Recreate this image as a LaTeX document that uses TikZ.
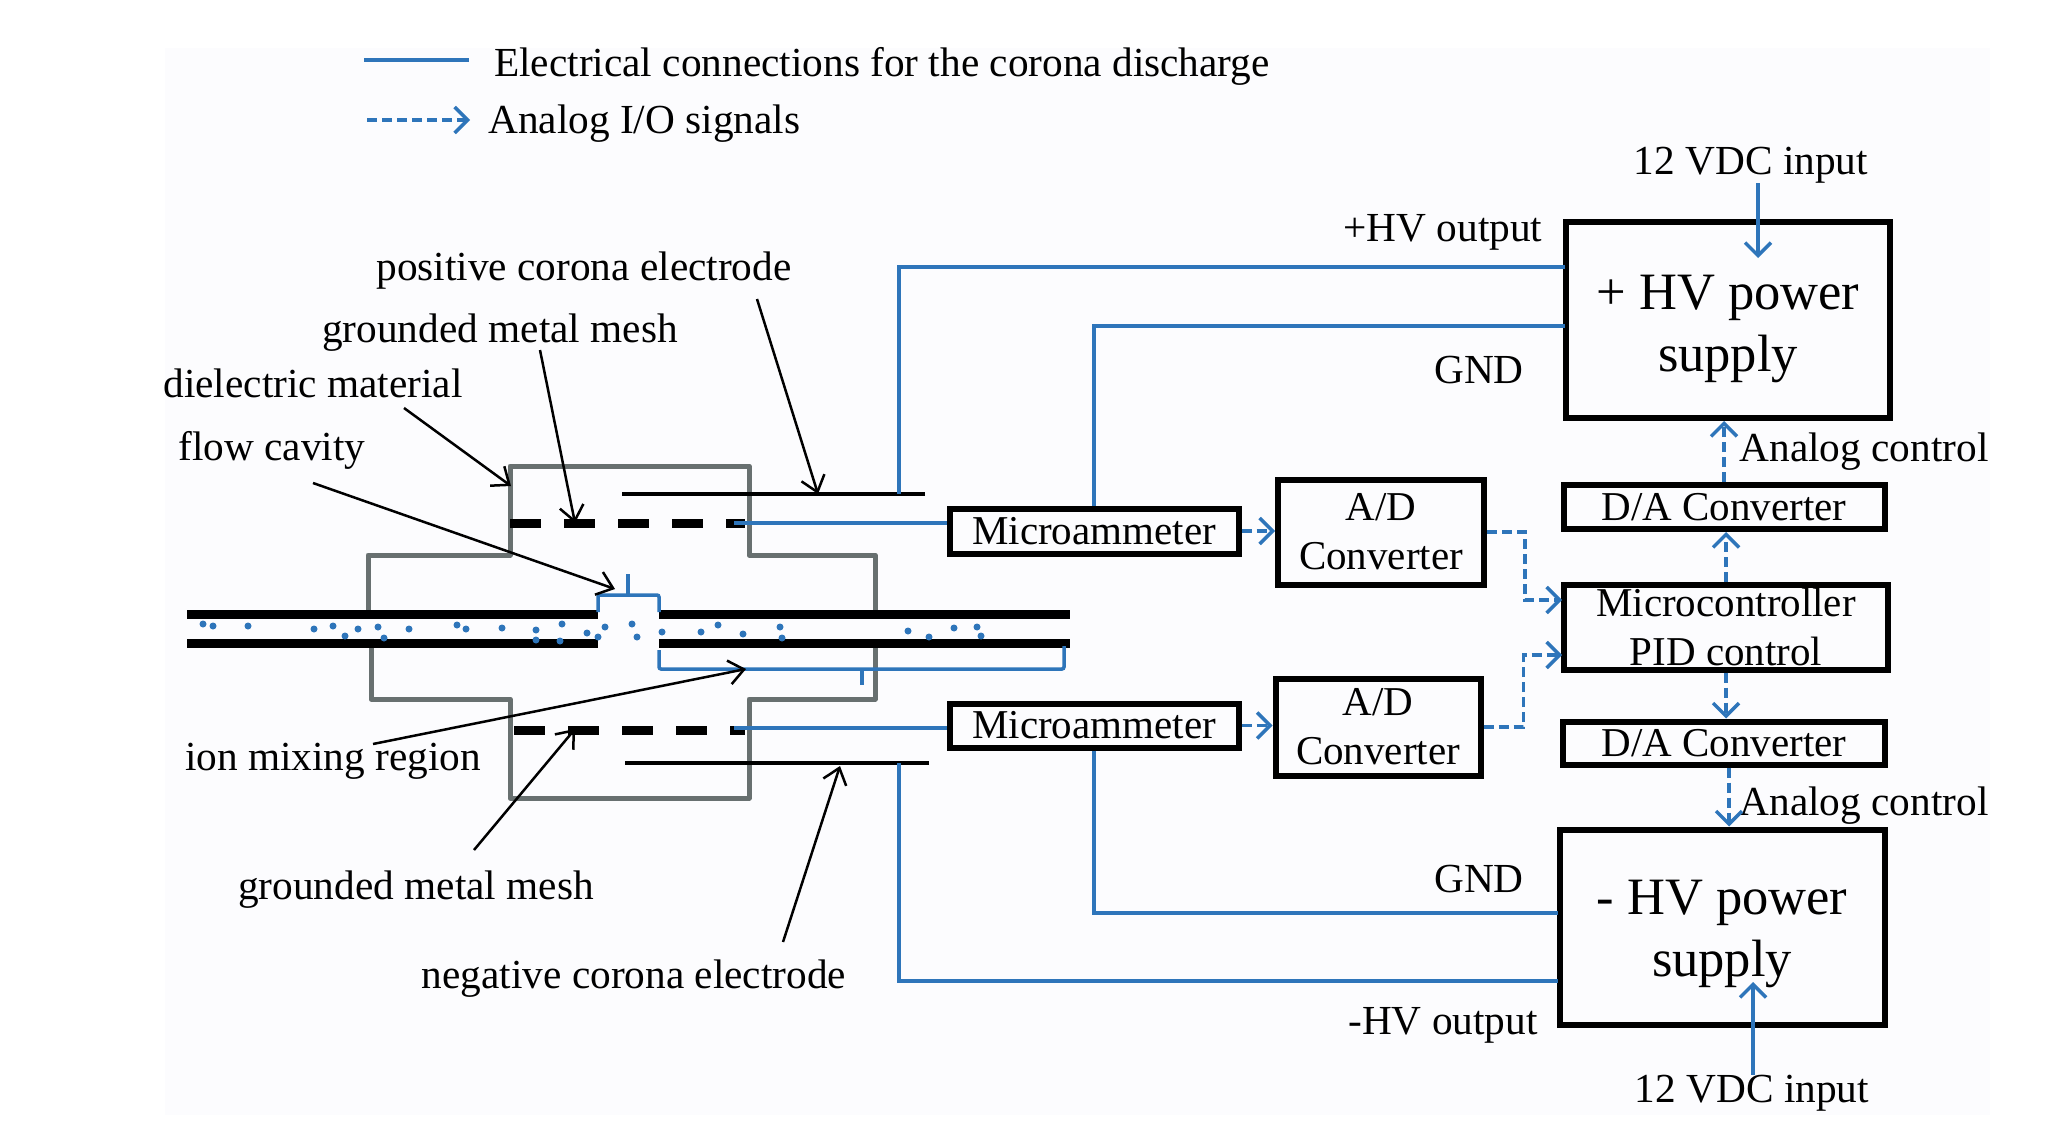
\documentclass[tikz,border=0pt]{standalone}
\usepackage{fontspec}
\setmainfont{Liberation Serif}
\usetikzlibrary{arrows.meta}
\definecolor{wireblue}{HTML}{2E75BA}
\definecolor{wallgrey}{HTML}{687070}
\definecolor{sheet}{HTML}{FCFCFE}
\tikzset{
	blockbox/.style={draw=black, line width=6pt, inner sep=0pt, align=center, font=\fontsize{41}{49}\selectfont},
	label/.style={inner sep=0pt, align=center, font=\fontsize{41.3}{49}\selectfont},
	wire/.style={color=wireblue, line width=3.5pt},
	signal/.style={color=wireblue, line width=3.5pt, dash pattern=on 10pt off 5pt, -{Straight Barb[length=13pt,width=26pt,line width=3.5pt]}},
	input/.style={color=wireblue, line width=3.5pt, -{Straight Barb[length=13pt,width=26pt,line width=3.5pt]}},
	pointer/.style={color=black, line width=2.5pt, -{Straight Barb[length=15pt,width=24pt,line width=2.5pt]}},
	wall/.style={draw=wallgrey, line width=5pt, line join=round},
	tube/.style={draw=black, line width=9pt},
	mesh/.style={draw=black, line width=9pt, dash pattern=on 31pt off 23pt},
	electrode/.style={draw=black, line width=4pt},
	bracket/.style={draw=wireblue, line width=3.5pt, rounded corners=2pt}
}
\begin{document}
\begin{tikzpicture}[x=1pt, y=-1pt, node distance=120pt]
	\useasboundingbox (0,0) rectangle (2064,1134);
	\fill[white] (0,0) rectangle (2064,1134);
	\fill[sheet] (165,48) rectangle (1990,1115);

	% Define nodes
	\node (hvp) [blockbox, minimum width=324pt, minimum height=196pt, font=\fontsize{52.5}{62}\selectfont] at (1728,320) {\rule{0pt}{53pt}+ HV power\\supply};
	\node (dac1) [blockbox, minimum width=321pt, minimum height=44pt, below of=hvp, node distance=187pt, xshift=-4pt] {D/A Converter};
	\node (mcu) [blockbox, minimum width=324pt, minimum height=85pt, below of=dac1, xshift=2pt] {Microcontroller\\PID control};
	\node (dac2) [blockbox, minimum width=322pt, minimum height=43pt, below of=mcu, node distance=116pt, xshift=-2pt] {D/A Converter};
	\node (hvm) [blockbox, minimum width=325pt, minimum height=195pt, below of=dac2, node distance=184pt, xshift=-2pt, font=\fontsize{52.5}{62}\selectfont] {\rule{0pt}{48pt}- HV power\\supply};

	\node (ma1) [blockbox, minimum width=289pt, minimum height=45pt] at (1094,531) {Microammeter};
	\node (ma2) [blockbox, minimum width=289pt, minimum height=44pt, below of=ma1, node distance=194.5pt] {Microammeter};
	\node (adc1) [blockbox, minimum width=206pt, minimum height=105pt] at (1381,532) {A/D\\Converter};
	\node (adc2) [blockbox, minimum width=205pt, minimum height=97pt] at (1378,727) {A/D\\Converter};

	\node (vdc1) [label] at (1751,165) {12 VDC input};
	\node (vdc2) [label] at (1752,1093) {12 VDC input};
	\node (outp) [label] at (1443,232) {+HV output};
	\node (outm) [label] at (1443,1025) {-HV output};
	\node (gnd1) [label] at (1479,370) {GND};
	\node (gnd2) [label] at (1479,879) {GND};
	\node (ana1) [label] at (1864,452) {Analog control};
	\node (ana2) [label] at (1864,806) {Analog control};

	\node (leg1) [label, anchor=west] at (494,66) {Electrical connections for the corona discharge};
	\node (leg2) [label, anchor=west] at (488,124) {Analog I/O signals};
	\node (poslab) [label] at (584,271) {positive corona electrode};
	\node (meshlab1) [label] at (500,333) {grounded metal mesh};
	\node (dielab) [label] at (313,383) {dielectric material};
	\node (flowlab) [label] at (272,450) {flow cavity};
	\node (ionlab) [label] at (333,761) {ion mixing region};
	\node (meshlab2) [label] at (416,890) {grounded metal mesh};
	\node (neglab) [label] at (634,979) {negative corona electrode};

	% Free ends
	\coordinate (leg1a) at (364,60);
	\coordinate (leg1b) at (469,60);
	\coordinate (leg2a) at (367,120);
	\coordinate (leg2b) at (470,120);
	\coordinate (inp) at (1758,258);
	\coordinate (inm) at (1753,982);
	\coordinate (posa) at (925,494);
	\coordinate (posb) at (622,494);
	\coordinate (nega) at (929,763);
	\coordinate (negb) at (625,763);
	\coordinate (mesha) at (510,523);
	\coordinate (meshb) at (745,523);
	\coordinate (meshc) at (514,730);
	\coordinate (meshd) at (745,730);
	\coordinate (wpos) at (899,494);
	\coordinate (wneg) at (899,763);
	\coordinate (hvout1) at (1565,267);
	\coordinate (hvgnd1) at (1565,326);
	\coordinate (hvgnd2) at (1558,913);
	\coordinate (hvout2) at (1558,981);
	\coordinate (mcuin1) at (1562,600);
	\coordinate (mcuin2) at (1562,655);

	% Flow cell
	\draw[wall] (368,612) -- (368,555) -- (510,555) -- (510,466) -- (749,466) -- (749,555) -- (875,555) -- (875,612);
	\draw[wall] (371,647) -- (371,699) -- (510,699) -- (510,798) -- (749,798) -- (749,699) -- (875,699) -- (875,647);
	\draw[tube] (187,614) -- (598,614) (659,614) -- (1070,614);
	\draw[tube] (187,643) -- (598,643) (659,643) -- (1070,643);
	\draw[mesh] (mesha) -- (meshb);
	\draw[mesh] (meshc) -- (meshd);
	\draw[electrode] (posa) -- (posb);
	\draw[electrode] (nega) -- (negb);
	\draw[bracket] (598,612) -- (598,595) -- (659,595) -- (659,612);
	\draw[bracket] (628,595) -- (628,574);
	\draw[bracket] (659,650) -- (659,669) -- (1064,669) -- (1064,646);
	\draw[bracket] (862,669) -- (862,685);
	\foreach \dotx/\doty in {203/624, 213/626, 248/626, 314/629, 333/626, 358/629, 345/636, 378/627, 384/638, 409/629, 457/625, 466/629, 502/628, 536/630, 562/624, 536/640, 560/641, 587/633, 605/627, 598/637, 632/624, 637/637, 662/632, 701/632, 718/625, 743/634, 780/627, 782/638, 908/631, 929/637, 954/628, 977/627, 981/636}
		\fill[wireblue] (\dotx,\doty) circle (3.5pt);

	% Draw edges
	\path[wire]
	(leg1a) edge (leg1b)
	(734,523) edge (734,523 -| ma1.west)
	(734,728) edge (734,728 -| ma2.west);
	\draw[wire] (wpos) |- (hvout1);
	\draw[wire] (ma1.north) |- (hvgnd1);
	\draw[wire] (ma2.south) |- (hvgnd2);
	\draw[wire] (wneg) |- (hvout2);

	\path[signal]
	(leg2a) edge (leg2b)
	(ma1.east) edge (ma1.east -| adc1.west)
	(ma2.east) edge (ma2.east -| adc2.west)
	(dac1.north) edge (dac1.north |- hvp.south)
	(mcu.north) edge (mcu.north |- dac1.south)
	(mcu.south) edge (mcu.south |- dac2.north)
	([xshift=5pt]dac2.south) edge ([xshift=5pt]dac2.south |- hvm.north);
	\draw[signal] (adc1.east) -- ++(38,0) |- (mcuin1);
	\draw[signal] (adc2.east) -- ++(40,0) |- (mcuin2);

	\path[input]
	(vdc1.south -| inp) edge (inp)
	(vdc2.north -| inm) edge (inm);

	\coordinate (tippos) at (818,494);
	\coordinate (tipmesh1) at (575,523);
	\coordinate (tipdie) at (511,486);
	\coordinate (tipflow) at (615,589);
	\coordinate (tipion) at (746,669);
	\coordinate (tipmesh2) at (575,729);
	\coordinate (tipneg) at (840,766);
	\path[pointer]
	(757,299) edge (tippos)
	(540,350) edge (tipmesh1)
	(404,408) edge (tipdie)
	(313,483) edge (tipflow)
	(373,744) edge (tipion)
	(474,850) edge (tipmesh2)
	(783,942) edge (tipneg);
\end{tikzpicture}
\end{document}
